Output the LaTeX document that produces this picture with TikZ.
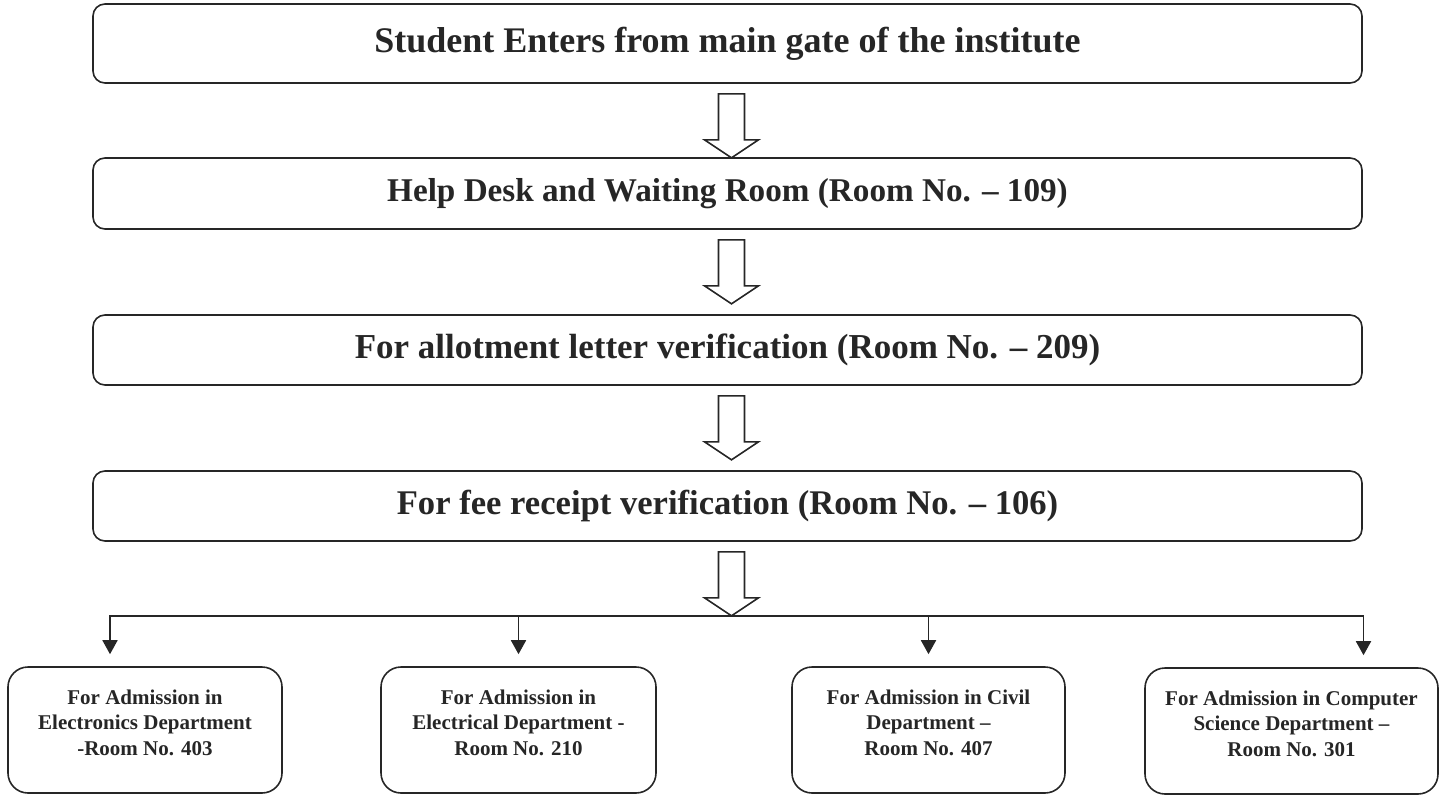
\documentclass[tikz,border=0pt]{standalone}
\usepackage{fontspec}
\setmainfont{Liberation Serif}
\usetikzlibrary{arrows.meta}
\begin{document}
\begin{tikzpicture}[x=1pt,y=-1pt,
  stage/.style={draw=black!85,line width=1.6pt,rounded corners=12pt,
    minimum width=1269pt,text=black!85},
  dept/.style={draw=black!85,line width=1.6pt,rounded corners=20pt,
    minimum height=126pt,align=center,text=black!85,
    text height=66pt,text depth=16pt,
    font=\bfseries\fontsize{21}{25.5}\selectfont},
  bigarrow/.style={draw=black!85,line width=1.6pt,fill=white},
  branch/.style={draw=black!85,line width=1.8pt,
    -{Triangle[length=14pt,width=15pt]},shorten >=12pt}]
  \useasboundingbox (0,0) rectangle (1451,795);
  \node[stage,minimum height=79pt,font=\bfseries\fontsize{36}{40}\selectfont]
    (gate) at (727.5,43.5) {Student Enters from main gate of the institute};
  \node[stage,minimum height=71pt,font=\bfseries\fontsize{33.2}{40}\selectfont]
    (desk) at (727.5,193.5) {Help Desk and Waiting Room (Room No. -- 109)};
  \node[stage,minimum height=70pt,font=\bfseries\fontsize{35}{40}\selectfont]
    (letter) at (727.5,350) {For allotment letter verification (Room No. -- 209)};
  \node[stage,minimum height=70pt,font=\bfseries\fontsize{34.6}{40}\selectfont]
    (fee) at (727.5,506) {For fee receipt verification (Room No. -- 106)};
  \foreach \s in {gate,desk,letter,fee}
    \draw[bigarrow] ([xshift=4pt,yshift=-10pt]\s.south) ++(-13,0) -- ++(0,46)
      -- ++(-14,0) -- ++(27,18) -- ++(27,-18) -- ++(-14,0) -- ++(0,-46) -- cycle;
  \coordinate (split) at ([xshift=4pt,yshift=-74pt]fee.south);
  \node[dept,minimum width=274pt] (ece) at (145,730)
    {For Admission in\\Electronics Department\\-Room No. 403};
  \node[dept,minimum width=275pt] (eee) at (518.5,730)
    {For Admission in\\Electrical Department -\\Room No. 210};
  \node[dept,minimum width=273pt] (civil) at (928.5,730)
    {For Admission in Civil\\Department --\\Room No. 407};
  \node[dept,minimum width=293pt] (cse) at (1291.5,731)
    {For Admission in Computer\\Science Department --\\Room No. 301};
  \draw[branch] (split) -| ([xshift=-35pt]ece.north);
  \draw[branch] (split) -| ([xshift=72pt]cse.north);
  \draw[branch] (split -| eee.north) -- (eee.north);
  \draw[branch] (split -| civil.north) -- (civil.north);
\end{tikzpicture}
\end{document}
